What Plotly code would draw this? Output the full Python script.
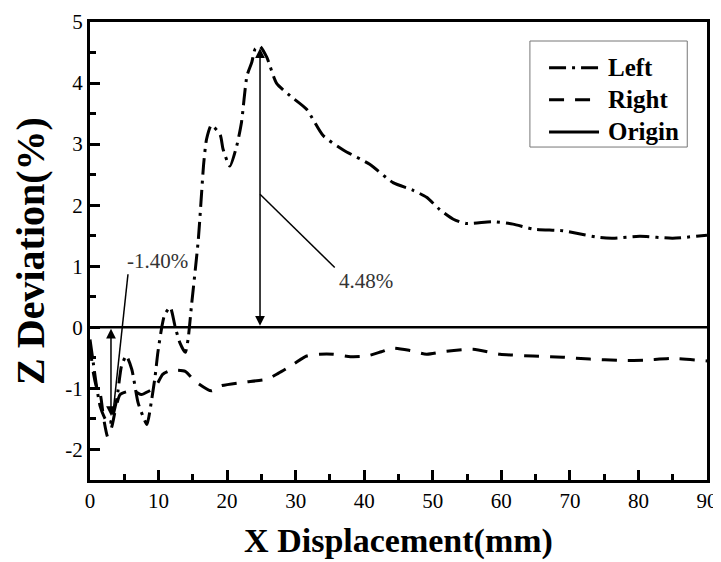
import plotly.graph_objects as go

# ---- data ----
left_x = [0, 0.5, 1, 1.5, 2, 2.5, 3, 3.9, 4.6, 5.3, 6.1, 7.0, 7.7, 8.3, 9.0, 9.5, 9.9,
          10.5, 10.9, 11.7, 12.4, 13.1, 13.9, 14.3, 14.8, 15.8, 16.6, 17.0, 17.7, 19.0,
          19.4, 20.4, 21.4, 22.1, 22.9, 23.6, 24.1, 24.8, 25.8, 27.2, 29.2, 31.6, 34.0,
          37.0, 40.8, 44.2, 47.0, 49.1, 51.0, 53.0, 54.9, 58.8, 61.7, 64.6, 69.0, 71.9,
          74.4, 76.3, 80.2, 85.0, 90]
left_y = [-0.2, -0.6, -1.0, -1.3, -1.45, -1.55, -1.55, -1.18, -0.63, -0.47, -0.69, -1.23,
          -1.45, -1.59, -1.18, -0.8, -0.41, 0.02, 0.21, 0.33, 0.02, -0.25, -0.41, -0.2,
          0.35, 1.44, 2.7, 3.08, 3.31, 3.15, 2.92, 2.64, 2.97, 3.36, 4.12, 4.34, 4.56, 4.6,
          4.42, 4.0, 3.79, 3.57, 3.14, 2.9, 2.67, 2.37, 2.25, 2.13, 1.93, 1.77, 1.70, 1.73,
          1.69, 1.61, 1.58, 1.52, 1.47, 1.46, 1.49, 1.46, 1.51]

right_x = [0, 0.5, 1, 1.5, 2, 2.6, 3.2, 3.8, 4.4, 5.5, 6.5, 7.5, 8.5, 9.5, 10.6, 11.4,
           12.5, 13.9, 15.3, 17.7, 19.0, 22.3, 25.8, 27.5, 29.6, 31.6, 33.5, 35.5, 38.0,
           40.4, 42.5, 44.2, 46.7, 49.1, 52.0, 55.9, 59.8, 64.6, 69.0, 72.9, 77.3, 80.7,
           85.0, 90]
right_y = [-0.3, -0.75, -1.0, -1.1, -1.5, -1.8, -1.62, -1.3, -1.1, -1.05, -1.05, -1.1,
           -1.05, -0.98, -0.77, -0.72, -0.7, -0.72, -0.88, -1.04, -0.96, -0.9, -0.85,
           -0.75, -0.61, -0.47, -0.44, -0.44, -0.48, -0.47, -0.40, -0.34, -0.38, -0.44,
           -0.39, -0.36, -0.44, -0.47, -0.49, -0.52, -0.54, -0.54, -0.51, -0.55]

origin_x = [0, 90]
origin_y = [0, 0]

series_names = ["Left", "Right", "Origin"]
x_ticks = [0, 10, 20, 30, 40, 50, 60, 70, 80, 90]
y_ticks = [-2, -1, 0, 1, 2, 3, 4, 5]
y_tick_text = ["-2", "-1", "0", "1", "2", "3", "4", "5"]

# annotation values
max_label = "4.48%"
min_label = "-1.40%"
max_x, max_y = 24.8, 4.57
min_x, min_y = 3.06, -1.45

SERIF = "Liberation Serif"
dash_left = "17px,6px,3px,6px"
dash_right = "15px,11px"

fig = go.Figure()
fig.add_trace(go.Scatter(x=left_x, y=left_y, mode="lines", name=series_names[0],
                         line=dict(color="black", width=3, dash=dash_left,
                                   shape="spline", smoothing=0.6), showlegend=False))
fig.add_trace(go.Scatter(x=right_x, y=right_y, mode="lines", name=series_names[1],
                         line=dict(color="black", width=3, dash=dash_right,
                                   shape="spline", smoothing=0.6), showlegend=False))
fig.add_trace(go.Scatter(x=origin_x, y=origin_y, mode="lines", name=series_names[2],
                         line=dict(color="black", width=2.5), showlegend=False))

# double-headed arrows
for (xa, ya) in [(max_x, max_y), (min_x, min_y)]:
    fig.add_annotation(x=xa, y=ya, ax=xa, ay=0, xref="x", yref="y", axref="x", ayref="y",
                       text="", showarrow=True, arrowside="end+start", arrowhead=2,
                       arrowsize=1.3, arrowwidth=1.5, arrowcolor="black",
                       standoff=0, startstandoff=0)

# leader lines
fig.add_shape(type="line", x0=max_x, y0=2.18, x1=35.7, y1=0.98, xref="x", yref="y",
              line=dict(color="black", width=1.5))
fig.add_shape(type="line", x0=5.54, y0=0.87, x1=3.35, y1=-1.41, xref="x", yref="y",
              line=dict(color="black", width=1.5))

fig.add_annotation(x=36.1, y=0.76, xref="x", yref="y", text=max_label, showarrow=False,
                   xanchor="left", yanchor="middle",
                   font=dict(family=SERIF, size=21, color="#333333"))
fig.add_annotation(x=9.9, y=1.08, xref="x", yref="y", text=min_label, showarrow=False,
                   xanchor="center", yanchor="middle",
                   font=dict(family=SERIF, size=21, color="#333333"))

# manual legend
fig.add_shape(type="rect", x0=0.713, x1=0.968, y0=0.727, y1=0.9585, xref="paper",
              yref="paper", line=dict(color="#777777", width=1), fillcolor="white")
legend_rows = [0.900, 0.830, 0.760]
legend_dash = [dash_left, dash_right, "solid"]
for name, yr, dsh in zip(series_names, legend_rows, legend_dash):
    fig.add_shape(type="line", x0=0.744, x1=0.825, y0=yr, y1=yr, xref="paper",
                  yref="paper", line=dict(color="black", width=3, dash=dsh))
    fig.add_annotation(x=0.836, y=yr, xref="paper", yref="paper", text=f"<b>{name}</b>",
                       showarrow=False, xanchor="left", yanchor="middle",
                       font=dict(family=SERIF, size=25, color="black"))

axis_common = dict(showline=True, linewidth=3, linecolor="black", mirror=True,
                   ticks="inside", ticklen=10, tickwidth=3, tickcolor="black",
                   showgrid=False, zeroline=False, automargin=False,
                   tickfont=dict(family=SERIF, size=21, color="black"))

fig.update_xaxes(range=[0, 90], tickvals=x_ticks,
                 minor=dict(dtick=5, ticks="inside", ticklen=6, tickwidth=3,
                            tickcolor="black", showgrid=False),
                 title=dict(text="<b>X Displacement(mm)</b>",
                            font=dict(family=SERIF, size=34, color="black"), standoff=16),
                 **axis_common)
fig.update_yaxes(range=[-2.5, 5], tickvals=y_ticks, ticktext=y_tick_text,
                 minor=dict(dtick=0.5, ticks="inside", ticklen=6, tickwidth=3,
                            tickcolor="black", showgrid=False),
                 title=dict(text="<b>Z Deviation(%)</b>",
                            font=dict(family=SERIF, size=40, color="black"), standoff=17),
                 **axis_common)

# page body has an 8px margin, so the figure is 8px smaller and margins compensate
fig.update_layout(width=713, height=554, margin=dict(l=82, r=14, t=14, b=82),
                  plot_bgcolor="white", paper_bgcolor="white", showlegend=False)

fig.write_html("out.html")
